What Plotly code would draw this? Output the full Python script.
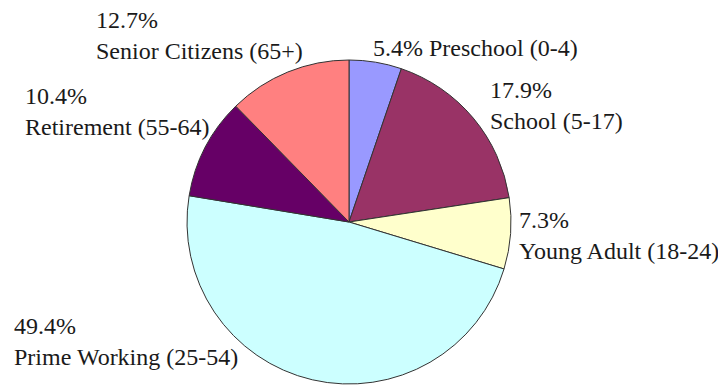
import plotly.graph_objects as go

categories = ["Preschool (0-4)", "School (5-17)", "Young Adult (18-24)",
              "Prime Working (25-54)", "Retirement (55-64)", "Senior Citizens (65+)"]
percents = [5.4, 17.9, 7.3, 49.4, 10.4, 12.7]
label_texts = ["5.4% Preschool (0-4)", "17.9%<br>School (5-17)", "7.3%<br>Young Adult (18-24)",
               "49.4%<br>Prime Working (25-54)", "10.4%<br>Retirement (55-64)",
               "12.7%<br>Senior Citizens (65+)"]
colors = ["#9999FF", "#993366", "#FFFFCC", "#CCFFFF", "#660066", "#FF8080"]

OFF = 8  # page body margin
W, H = 726 - OFF, 386 - OFF
# label box positions (left, top) in screen pixels
label_pos = [(371, 33), (488, 75), (517, 205), (12, 311), (23, 81), (94, 5)]


def px_x(x):
    return (x - OFF) / W


def px_y(y):
    return 1 - (y - OFF) / H


fig = go.Figure(go.Pie(
    labels=categories, values=percents, sort=False, direction="clockwise", rotation=0,
    marker=dict(colors=colors, line=dict(color="#333333", width=1)),
    textinfo="none", hoverinfo="label+percent", showlegend=False,
    domain=dict(x=[px_x(187), px_x(511)], y=[px_y(384), px_y(60)]),
))

for txt, (px, py) in zip(label_texts, label_pos):
    fig.add_annotation(text=txt, x=px_x(px), y=px_y(py), xref="paper", yref="paper",
                       xanchor="left", yanchor="top", align="left", showarrow=False,
                       font=dict(family="Liberation Serif, Times New Roman, serif", size=24,
                                 color="#1a1a1a"))

fig.update_layout(width=W, height=H, margin=dict(l=0, r=0, t=0, b=0),
                  paper_bgcolor="white", plot_bgcolor="white")
fig.write_html("out.html")
